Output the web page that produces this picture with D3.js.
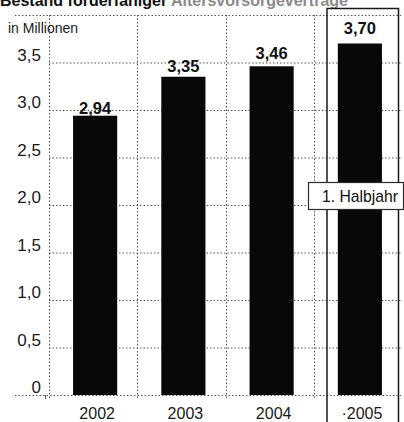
<!DOCTYPE html>
<html>
<head>
<meta charset="utf-8">
<script src="https://cdn.jsdelivr.net/npm/d3@7"></script>
<style>
  html, body { margin: 0; padding: 0; background: #fff; }
  svg { display: block; }
  text { font-family: "Liberation Sans", Arial, sans-serif; }
</style>
</head>
<body>
<svg id="chart" width="404" height="422"></svg>
<script>
// Bestand in Millionen
const years = ["2002", "2003", "2004", "2005"];
const yearLabels = ["2002", "2003", "2004", "\u00b72005"];
const values = [2.94, 3.35, 3.46, 3.70];
const valueLabels = ["2,94", "3,35", "3,46", "3,70"];
const yTicks = [0, 0.5, 1.0, 1.5, 2.0, 2.5, 3.0, 3.5];
const yTickLabels = ["0", "0,5", "1,0", "1,5", "2,0", "2,5", "3,0", "3,5"];
const titleText = ["Bestand förderfähiger ", "Altersvorsorgeverträge"];

const svg = d3.select("#chart");

const x = d3.scaleBand()
  .domain(years)
  .range([51, 404])
  .paddingInner(0.5)
  .paddingOuter(0.25);

const y = d3.scaleLinear()
  .domain([0, 4])
  .range([395, 15]);

const gridColor = "#555";

// Title, running into the top edge
svg.append("text")
  .attr("x", 0)
  .attr("y", 6)
  .attr("font-size", 16)
  .attr("font-weight", "bold")
  .attr("fill", "#111")
  .call(t => {
    t.append("tspan").text(titleText[0]);
    t.append("tspan").attr("fill", "#8a8a8a").text(titleText[1]);
  });

// Horizontal grid
const grid = svg.append("g");
grid.selectAll("line.h")
  .data(yTicks.filter(d => d > 0))
  .join("line")
  .attr("x1", x.range()[0] - 2)
  .attr("x2", 401)
  .attr("y1", d => y(d) + 0.5)
  .attr("y2", d => y(d) + 0.5)
  .attr("stroke", gridColor)
  .attr("stroke-width", 1)
  .attr("stroke-dasharray", "1.5,2");

// Top and base lines span the full width
grid.selectAll("line.full")
  .data([0, 4])
  .join("line")
  .attr("x1", 15)
  .attr("x2", 401)
  .attr("y1", d => y(d) + 0.5)
  .attr("y2", d => y(d) + 0.5)
  .attr("stroke", gridColor)
  .attr("stroke-width", 1)
  .attr("stroke-dasharray", "1.5,2");

// Vertical grid between categories
const step = x.step();
const vLines = [x(years[0]) - step * x.paddingOuter()].concat(
  years.slice(0, 3).map(d => x(d) + x.bandwidth() + step * x.paddingInner() / 2)
);
grid.selectAll("line.v")
  .data(vLines)
  .join("line")
  .attr("x1", d => Math.round(d) - 1.5)
  .attr("x2", d => Math.round(d) - 1.5)
  .attr("y1", y(4))
  .attr("y2", y(0) + 3)
  .attr("stroke", gridColor)
  .attr("stroke-width", 1)
  .attr("stroke-dasharray", "1.5,2");

// Small tick under the zero line
svg.append("line")
  .attr("x1", 45.5).attr("x2", 45.5)
  .attr("y1", y(0)).attr("y2", y(0) + 4)
  .attr("stroke", gridColor);

// Box around the 2005 column
const boxL = 327, boxR = 398.5, boxT = 8.5;
svg.append("path")
  .attr("d", `M${boxL},422 V${boxT} H${boxR} V422`)
  .attr("fill", "none")
  .attr("stroke", "#1a1a1a")
  .attr("stroke-width", 1.5);

// Bars
svg.append("g")
  .selectAll("rect")
  .data(values)
  .join("rect")
  .attr("x", (d, i) => x(years[i]))
  .attr("width", x.bandwidth())
  .attr("y", d => y(d))
  .attr("height", d => y(0) - y(d))
  .attr("fill", "#080808");

// Value labels
svg.append("g")
  .selectAll("text")
  .data(values)
  .join("text")
  .attr("x", (d, i) => x(years[i]) + x.bandwidth() / 2)
  .attr("y", (d, i) => y(d) - [2, 5, 7, 10][i])
  .attr("text-anchor", "middle")
  .attr("font-size", 16.5)
  .attr("font-weight", "bold")
  .attr("fill", "#111")
  .text((d, i) => valueLabels[i]);

// Y tick labels
svg.append("g")
  .selectAll("text")
  .data(yTicks)
  .join("text")
  .attr("x", 41)
  .attr("y", d => y(d) - 2)
  .attr("text-anchor", "end")
  .attr("font-size", 17)
  .attr("fill", "#1a1a1a")
  .text((d, i) => yTickLabels[i]);

// Unit label
svg.append("text")
  .attr("x", 8)
  .attr("y", 33)
  .attr("font-size", 14)
  .attr("fill", "#1a1a1a")
  .text("in Millionen");

// Year labels
svg.append("g")
  .selectAll("text")
  .data(years)
  .join("text")
  .attr("x", d => x(d) + x.bandwidth() / 2 + 2)
  .attr("y", 419)
  .attr("text-anchor", "middle")
  .attr("font-size", 16)
  .attr("fill", "#1a1a1a")
  .text((d, i) => yearLabels[i]);

// "1. Halbjahr" note
const note = svg.append("g");
note.append("rect")
  .attr("x", 308.5).attr("y", 182.5)
  .attr("width", 95).attr("height", 27)
  .attr("fill", "#fff")
  .attr("stroke", "#2a2a2a")
  .attr("stroke-width", 1.2);
note.append("text")
  .attr("x", 322)
  .attr("y", 202)
  .attr("font-size", 17)
  .attr("textLength", 76)
  .attr("lengthAdjust", "spacingAndGlyphs")
  .attr("fill", "#111")
  .text("1. Halbjahr");
</script>
</body>
</html>
